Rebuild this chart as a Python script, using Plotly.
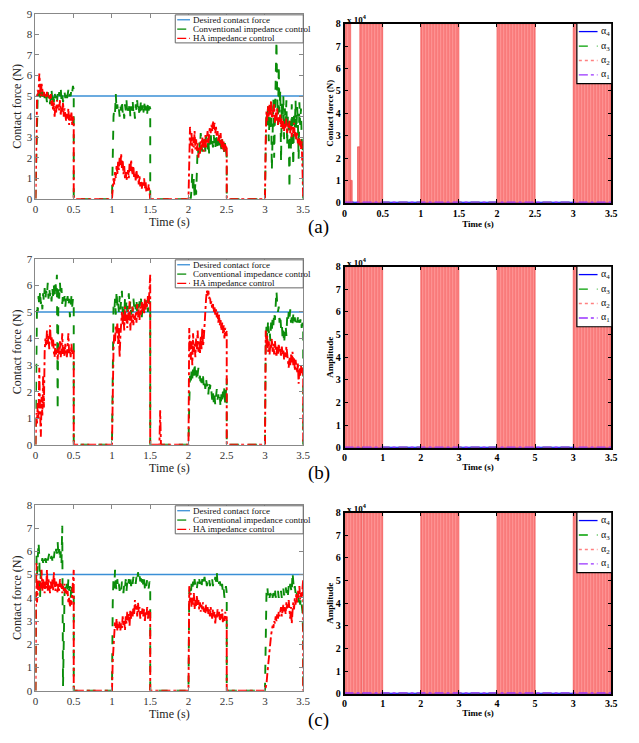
import plotly.graph_objects as go

# ---------------- data ----------------
STEP = 0.01
seg_starts = [0.0, 1.0, 2.0, 3.0]
time_ticks = [0, 0.5, 1, 1.5, 2, 2.5, 3, 3.5]
time_tick_text = ["0", "0.5", "1", "1.5", "2", "2.5", "3", "3.5"]
odd_tick_text = ["0", "1", "2", "3", "4", "5", "3", "3.5"]
desired_force = 5.0

# panel (a) conventional impedance control
a_conv = [
 [0,2.5,4.8,5.2,5.0,5.3,4.9,5.4,5.0,5.2,4.8,5.1,4.9,5.3,5.0,4.7,5.2,4.9,5.1,4.6,5.0,5.3,4.8,5.1,4.7,5.2,4.9,5.0,4.6,5.1,4.8,5.2,5.0,5.4,4.8,5.1,4.7,5.0,5.2,4.9,5.1,4.8,5.0,5.3,4.9,5.1,5.0,5.4,5.2,5.5,5.3],
 [0,3.0,4.0,4.4,4.2,5.1,4.3,4.6,4.2,4.4,4.0,4.5,4.3,4.8,4.2,4.4,3.9,4.6,4.3,4.8,4.1,4.4,4.3,4.7,4.0,4.5,4.3,4.8,4.2,4.4,3.9,4.6,4.3,4.8,4.2,4.5,4.0,4.4,4.8,4.3,4.6,4.2,4.4,4.8,4.3,4.5,4.1,4.7,4.3,4.5,4.4],
 [0,0,0.2,0,0.5,1.3,0.3,1.0,0,0.8,0.2,1.5,2.5,2.2,2.8,2.4,3.2,2.6,2.3,2.9,2.5,2.8,2.3,3.1,2.6,2.4,2.9,2.2,2.7,3.3,2.6,2.9,2.5,3.1,2.7,2.4,3.2,2.8,2.5,2.9,2.6,3.0,2.7,2.4,2.9,2.6,2.2,2.5,2.8,2.4,2.0],
 [0,2.5,4.2,3.6,4.5,2.8,4.1,3.3,4.6,1.4,3.8,4.9,2.0,4.5,6.2,7.7,5.1,3.6,6.5,4.2,5.3,1.8,4.7,3.5,5.0,2.9,4.4,3.6,4.8,2.6,4.1,3.3,0.5,4.0,2.3,4.6,3.1,1.6,4.2,3.5,4.8,2.9,4.5,3.8,1.9,4.7,3.6,4.4,3.0,2.2,2.6],
]
# panel (a) HA impedance control
a_ha = [
 [0,3.2,4.9,5.3,5.1,6.1,5.4,5.0,5.6,5.1,5.0,5.2,5.0,5.1,4.9,5.2,5.0,5.1,5.0,4.8,5.1,4.5,4.8,4.3,4.7,4.0,4.5,4.2,4.8,4.4,4.6,4.3,4.8,4.1,4.5,4.2,4.7,4.0,4.4,4.1,3.8,4.2,3.9,4.4,3.6,4.1,3.8,4.2,3.6,4.0,3.8],
 [0,0.5,1.0,0.7,1.3,1.0,1.6,1.2,1.8,1.4,2.0,1.6,2.2,1.5,1.9,1.2,1.6,1.0,1.3,0.9,1.2,1.4,1.0,1.7,1.3,1.9,1.4,1.2,1.6,1.0,1.3,0.9,1.4,1.0,1.2,0.7,1.1,0.6,0.9,0.5,0.8,0.6,1.0,0.5,0.8,0.3,0.6,0.4,0.7,0.3,0.2],
 [0,2.8,3.5,2.6,3.2,2.2,3.0,2.5,3.3,2.4,2.9,2.3,2.7,2.0,2.5,2.2,2.8,2.4,3.0,2.6,2.3,2.8,3.1,2.5,2.9,3.3,2.7,3.1,3.5,3.2,3.6,3.3,3.8,3.4,3.7,3.2,3.5,3.0,3.3,2.8,3.1,2.7,3.2,2.5,2.9,2.4,2.8,2.3,2.7,2.5,2.6],
 [0,3.0,4.3,3.8,4.5,4.0,4.6,4.1,4.8,3.9,4.3,4.0,4.6,3.7,4.2,3.8,4.4,3.6,4.0,3.7,4.1,3.5,3.9,3.4,3.8,3.3,3.7,3.4,3.9,3.2,3.6,3.4,3.8,3.2,3.6,3.0,3.5,3.2,3.7,3.0,3.3,2.9,3.2,2.7,3.0,2.6,2.9,2.4,2.8,1.5,0.7],
]
# panel (b) conventional impedance control
b_conv = [
 [0,3.5,5.3,5.0,5.6,5.2,5.8,5.3,5.5,5.1,5.7,5.4,5.9,5.5,5.8,5.6,6.1,5.5,5.9,5.6,5.8,5.4,5.9,5.6,6.0,5.5,6.2,5.8,6.4,1.3,5.9,5.5,6.1,5.6,5.9,5.3,5.7,5.4,5.6,5.2,5.5,5.3,5.6,5.2,5.5,4.8,5.4,5.6,5.2,5.5,5.3],
 [0,3.5,5.2,5.0,5.5,4.9,5.8,5.2,5.4,5.0,5.6,5.1,5.4,5.8,5.0,5.3,4.8,5.5,5.1,5.4,5.0,5.3,5.7,5.1,5.4,4.9,5.3,5.0,5.5,5.2,5.4,5.1,5.5,4.9,5.3,5.0,5.4,5.2,5.5,4.8,5.3,5.0,5.4,5.1,5.5,5.2,5.4,5.0,5.5,5.3,5.4],
 [0,1.5,2.6,2.3,2.8,2.5,2.9,2.6,3.1,2.5,2.8,2.4,2.7,2.9,2.5,2.6,2.2,2.5,2.3,2.6,2.2,2.4,2.1,2.5,2.2,2.3,1.9,2.4,2.1,2.3,2.0,1.7,2.0,1.6,1.9,1.5,1.8,2.1,1.7,1.9,1.6,1.8,1.4,1.9,1.6,2.0,1.7,2.2,1.5,1.9,2.5],
 [0,3.8,4.5,3.9,4.7,4.2,4.4,3.9,4.6,4.3,4.8,4.5,5.0,4.7,5.4,5.8,5.3,5.0,5.2,4.6,4.9,4.4,4.6,4.0,4.3,3.8,4.2,4.5,4.1,4.8,4.6,5.0,4.7,5.1,4.6,4.8,4.5,4.9,4.6,4.8,4.5,4.7,4.6,4.8,4.5,4.7,4.6,4.8,4.4,4.6,4.3],
]
# panel (b) HA impedance control
b_ha = [
 [0,1.2,0.8,1.6,1.0,2.9,1.3,0.3,1.8,1.1,2.6,1.4,3.5,4.0,3.7,4.3,3.8,4.1,3.6,4.5,3.9,4.1,3.7,4.0,3.5,3.3,3.8,3.4,3.6,3.2,3.7,3.4,3.9,3.3,3.6,4.2,3.4,3.7,3.3,3.8,3.5,3.3,3.7,4.2,3.4,3.6,3.3,3.8,3.4,3.6,3.5],
 [0,3.0,3.6,4.2,3.9,4.5,4.2,4.6,3.8,4.4,3.3,4.1,4.7,5.0,4.5,4.9,4.3,5.2,4.6,4.9,4.4,5.1,4.7,5.4,4.3,4.9,4.6,5.2,4.5,4.9,4.7,5.0,4.6,5.3,4.8,5.1,4.7,5.2,4.9,5.4,5.0,5.3,4.9,5.5,5.1,5.4,5.2,5.6,5.3,5.9,6.4],
 [0,4.4,3.6,3.2,3.9,3.0,4.2,3.5,3.8,3.3,4.0,3.6,4.3,3.5,3.9,3.4,4.1,3.6,4.4,3.7,4.0,4.6,5.0,5.5,5.8,5.6,5.8,5.5,5.6,5.3,5.4,5.1,5.3,5.0,5.2,4.9,5.1,4.8,5.0,4.6,4.9,4.5,4.7,4.3,4.6,4.2,4.5,4.0,4.4,4.1,4.3],
 [0,4.3,3.7,4.1,3.5,3.9,3.4,3.8,3.6,4.0,3.5,3.8,3.4,3.9,3.6,3.3,3.7,3.4,3.8,3.5,3.6,3.3,3.7,3.4,3.6,3.2,3.5,3.3,3.7,3.4,3.2,2.9,3.3,3.0,3.4,3.1,3.5,3.0,3.3,2.8,3.2,3.0,2.7,3.1,2.3,2.9,2.6,3.0,2.7,2.9,2.6],
]
b_ha_blip_start = 1.62
b_ha_blip = [0, 1.3, 0]
# panel (c) conventional impedance control
c_conv = [
 [0,6.0,5.0,5.5,6.4,5.8,4.0,5.3,5.6,5.7,5.5,5.8,5.6,5.7,5.5,5.8,5.6,5.7,5.9,5.6,5.7,5.8,5.6,5.9,5.7,6.0,5.8,6.1,5.9,6.4,5.8,6.1,5.6,6.0,5.5,7.1,0.2,3.5,4.2,4.5,4.3,4.6,4.2,4.8,4.3,4.5,4.0,4.6,4.2,4.4,4.1],
 [0,3.8,4.9,4.4,5.2,4.6,4.3,4.8,4.4,4.6,4.3,4.5,4.3,4.7,4.4,4.2,4.6,4.4,4.8,4.3,4.7,4.5,4.8,4.6,4.9,4.5,4.8,4.6,4.9,4.7,4.8,4.6,4.9,4.7,5.1,4.8,5.0,4.7,4.9,4.6,4.8,4.5,4.8,4.4,4.7,4.5,4.8,4.6,4.4,4.7,4.5],
 [0,4.2,4.4,4.1,4.6,4.3,4.7,4.4,4.8,4.5,4.6,4.4,4.7,4.5,4.8,4.6,4.7,4.4,4.8,4.5,4.7,4.9,4.6,4.8,4.5,4.7,4.6,4.8,4.5,4.7,4.6,4.8,4.5,4.7,4.6,4.9,4.7,5.1,4.6,4.8,4.6,4.7,4.5,4.3,4.6,4.2,4.4,4.0,4.3,4.5,4.2],
 [0,2.5,4.3,4.5,4.1,4.3,4.0,4.2,4.1,4.3,4.0,4.2,4.1,4.4,4.0,4.2,4.1,4.3,4.0,4.2,4.1,4.3,4.0,4.2,4.4,4.1,4.3,4.5,4.2,4.4,4.1,4.5,4.3,4.6,4.4,4.2,5.1,4.4,4.3,4.5,4.2,4.4,4.0,4.3,3.8,4.1,3.7,4.0,3.6,3.4,2.3],
]
# panel (c) HA impedance control
c_ha = [
 [0,5.5,3.8,4.2,4.8,4.3,4.7,4.4,5.2,4.3,4.8,4.5,4.2,4.7,4.4,5.2,4.3,4.8,4.5,4.2,4.7,4.4,4.8,4.3,5.1,4.5,4.3,4.7,4.4,4.2,4.6,4.3,4.8,4.4,4.6,4.2,4.5,4.3,4.6,4.2,4.4,4.1,4.3,3.8,4.0,3.6,3.9,3.7,4.2,4.6,5.2],
 [0,1.3,2.0,2.5,3.0,2.7,3.1,2.6,2.9,2.7,3.0,2.6,2.9,2.7,3.2,2.8,3.0,2.6,3.2,2.9,3.4,3.0,3.3,2.8,3.5,3.1,3.4,3.2,3.6,3.3,3.9,3.5,3.7,3.2,3.8,3.4,3.6,3.1,3.5,3.3,3.6,3.2,3.5,3.0,3.4,3.2,3.6,3.1,3.5,3.3,3.4],
 [0,4.5,3.8,4.2,3.6,4.0,3.7,4.2,3.5,3.9,3.6,4.1,3.7,3.9,3.5,3.8,3.4,3.7,3.5,3.8,3.4,3.6,3.3,3.7,3.4,3.6,3.3,3.5,3.2,3.6,3.4,3.1,3.5,3.2,3.4,2.9,3.3,3.1,3.5,3.2,3.4,3.0,3.3,3.1,3.5,2.9,3.2,3.0,3.4,3.1,3.2],
 [0,0.1,0.3,0.7,1.1,1.4,1.8,2.1,2.4,2.6,2.8,2.7,3.0,2.9,3.2,3.0,3.3,3.1,3.4,3.2,3.5,3.6,3.2,3.5,3.7,3.4,3.6,3.3,3.8,3.5,3.6,3.9,3.4,3.1,3.6,2.9,3.4,3.8,3.5,4.0,3.7,4.2,3.8,4.3,4.0,4.5,3.9,4.2,4.0,4.4,4.8],
]

# right panels: alpha_2 active intervals (start, end, peak amplitude)
a_alpha2_start = [0.00, 0.08, 0.17, 0.20, 1.00, 2.00, 3.00]
a_alpha2_end   = [0.08, 0.10, 0.20, 0.50, 1.50, 2.50, 3.50]
a_alpha2_peak  = [80000, 10000, 25000, 80000, 80000, 80000, 80000]
bc_alpha2_start = [0.00, 0.245, 1.00, 2.00, 3.00]
bc_alpha2_end   = [0.23, 0.50, 1.50, 2.50, 3.50]
bc_alpha2_peak  = [80000, 80000, 80000, 80000, 80000]
alpha_time = [0, 3.5]
alpha4_vals = [0, 0]
alpha3_vals = [0, 0]
alpha1_vals = [150, 150]
amp_ticks = [0, 10000, 20000, 30000, 40000, 50000, 60000, 70000, 80000]
amp_tick_text = ["0", "1", "2", "3", "4", "5", "6", "7", "8"]

# ---------------- styling ----------------
W, H = 639, 743
SERIF = "Liberation Serif, Times New Roman, serif"
BLUE = "#3a8fd6"
GREEN = "#0a8c0a"
RED = "#ff0000"

def px(x):
    return x / W

def py(y):
    return 1 - y / H

def build(segs, extra=None):
    xs, ys = [0.0], [0.0]
    items = [(seg_starts[i], v) for i, v in enumerate(segs)]
    if extra:
        items.append(extra)
    items.sort(key=lambda it: it[0])
    for s, vals in items:
        for i, v in enumerate(vals):
            xs.append(round(s + STEP * i, 4))
            ys.append(v)
        end = round(s + STEP * (len(vals) - 1), 4)
        xs.append(end)
        ys.append(0)
    xs.append(3.5)
    ys.append(0)
    return xs, ys

fig = go.Figure()

left_panels = [
    ("x", "y", a_conv, a_ha, None, 9, (8, 196)),
    ("x3", "y3", b_conv, b_ha, (b_ha_blip_start, b_ha_blip), 7, (257, 446)),
    ("x5", "y5", c_conv, c_ha, None, 8, (507, 696)),
]
right_panels = [
    ("x2", "y2", a_alpha2_start, a_alpha2_end, a_alpha2_peak, time_tick_text, "Contact force (N)", (18, 200)),
    ("x4", "y4", bc_alpha2_start, bc_alpha2_end, bc_alpha2_peak, odd_tick_text, "Amplitude", (265, 449)),
    ("x6", "y6", bc_alpha2_start, bc_alpha2_end, bc_alpha2_peak, odd_tick_text, "Amplitude", (515, 699)),
]

shapes = []
annotations = []

for xa, ya, conv, ha, extra, ymax, (top, bot) in left_panels:
    fig.add_trace(go.Scatter(x=[0, 3.5], y=[desired_force, desired_force], mode="lines",
                             line=dict(color=BLUE, width=1.5), xaxis=xa, yaxis=ya,
                             showlegend=False, name="Desired contact force"))
    cx, cy = build(conv)
    fig.add_trace(go.Scatter(x=cx, y=cy, mode="lines", line=dict(color=GREEN, width=1.9, dash="dash"),
                             xaxis=xa, yaxis=ya, showlegend=False, name="Conventional impedance control"))
    hx, hy = build(ha, extra)
    fig.add_trace(go.Scatter(x=hx, y=hy, mode="lines", line=dict(color=RED, width=1.9, dash="dashdot"),
                             xaxis=xa, yaxis=ya, showlegend=False, name="HA impedance control"))
    # custom legend box
    lx0, lx1 = 175, 305
    shapes.append(dict(type="rect", xref="paper", yref="paper", x0=px(lx0), x1=px(lx1),
                       y0=py(top + 29.5), y1=py(top + 1), line=dict(color="#666666", width=1),
                       fillcolor="white", layer="above"))
    entries = [("Desired contact force", BLUE, "solid"),
               ("Conventional impedance control", GREEN, "dash"),
               ("HA impedance control", RED, "dashdot")]
    for k, (txt, col, dash) in enumerate(entries):
        ry = top + 6 + 9.5 * k
        shapes.append(dict(type="line", xref="paper", yref="paper", x0=px(177), x1=px(190),
                           y0=py(ry), y1=py(ry), line=dict(color=col, width=1.3, dash=dash), layer="above"))
        annotations.append(dict(x=px(191), y=py(ry), xref="paper", yref="paper", text=txt,
                                showarrow=False, xanchor="left", yanchor="middle",
                                font=dict(family=SERIF, size=9, color="#111111")))

for xa, ya, st, en, pk, ttext, ytitle, (top, bot) in right_panels:
    fig.add_trace(go.Scatter(x=alpha_time, y=alpha4_vals, mode="lines", line=dict(color="#0000ff", width=2),
                             xaxis=xa, yaxis=ya, showlegend=False, name="α4"))
    fig.add_trace(go.Scatter(x=alpha_time, y=alpha3_vals, mode="lines",
                             line=dict(color="#00a000", width=2, dash="dash"),
                             xaxis=xa, yaxis=ya, showlegend=False, name="α3"))
    for s, e, h in zip(st, en, pk):
        fig.add_trace(go.Scatter(x=[s, s, e, e, s], y=[0, h, h, 0, 0], mode="lines", fill="toself",
                                 fillcolor="rgb(250,120,120)",
                                 fillpattern=dict(shape="|", fgcolor="rgb(238,45,45)",
                                                  bgcolor="rgb(255,160,160)", size=3, solidity=0.5),
                                 line=dict(color="rgb(238,60,60)", width=0.6),
                                 xaxis=xa, yaxis=ya, showlegend=False, name="α2"))
    fig.add_trace(go.Scatter(x=alpha_time, y=alpha1_vals, mode="lines",
                             line=dict(color="#9933ff", width=2, dash="dashdot"),
                             xaxis=xa, yaxis=ya, showlegend=False, name="α1"))
    # x 10^4 label
    annotations.append(dict(x=px(347), y=py(top - 5), xref="paper", yref="paper",
                            text="<b>x 10<sup>4</sup></b>", showarrow=False, xanchor="left",
                            yanchor="middle", font=dict(family=SERIF, size=9, color="black")))
    # custom legend
    shapes.append(dict(type="rect", xref="paper", yref="paper", x0=px(583), x1=px(618.5),
                       y0=py(top + 61), y1=py(top - 0.5), line=dict(color="black", width=1.2),
                       fillcolor="white", layer="above"))
    entries = [("α<sub>4</sub>", "#0000ff", "solid"), ("α<sub>3</sub>", "#00a000", "dash"),
               ("α<sub>2</sub>", "#ff8080", "dot"), ("α<sub>1</sub>", "#9933ff", "dashdot")]
    for k, (txt, col, dash) in enumerate(entries):
        ry = top + 8 + 14.7 * k
        shapes.append(dict(type="line", xref="paper", yref="paper", x0=px(585), x1=px(604),
                           y0=py(ry), y1=py(ry), line=dict(color=col, width=1.3, dash=dash), layer="above"))
        annotations.append(dict(x=px(605), y=py(ry), xref="paper", yref="paper", text=txt,
                                showarrow=False, xanchor="left", yanchor="middle",
                                font=dict(family=SERIF, size=10, color="#111111")))

# panel labels
for lbl, yy in [("(a)", 225), ("(b)", 475), ("(c)", 726)]:
    annotations.append(dict(x=px(321), y=py(yy), xref="paper", yref="paper", text=lbl, showarrow=False,
                            xanchor="center", yanchor="middle", font=dict(family=SERIF, size=19, color="black")))

layout = dict(width=W, height=H, margin=dict(l=0, r=0, t=0, b=0), paper_bgcolor="white",
              plot_bgcolor="white", showlegend=False, shapes=shapes, annotations=annotations)

def left_axes(n, ymax, top, bot):
    sx = "" if n == 1 else str(n)
    xd = dict(domain=[px(33), px(305)], range=[0, 3.5], tickvals=time_ticks, ticktext=time_tick_text,
              anchor="y" + sx, showgrid=False, zeroline=False, showline=True, linecolor="#888888",
              linewidth=1, mirror="ticks", ticks="inside", ticklen=4, tickcolor="#888888",
              tickfont=dict(family=SERIF, size=11, color="#333333"),
              title=dict(text="Time (s)", font=dict(family=SERIF, size=12, color="#222222"), standoff=2))
    yd = dict(domain=[py(bot), py(top)], range=[0, ymax], dtick=1, anchor="x" + sx, showgrid=False,
              zeroline=False, showline=True, linecolor="#888888", linewidth=1, mirror="ticks",
              ticks="inside", ticklen=4, tickcolor="#888888",
              tickfont=dict(family=SERIF, size=11, color="#333333"),
              title=dict(text="Contact force (N)", font=dict(family=SERIF, size=12, color="#222222"), standoff=2))
    return xd, yd

def right_axes(n, ttext, ytitle, top, bot):
    sx = str(n)
    xd = dict(domain=[px(347), px(618)], range=[0, 3.5], tickvals=time_ticks, ticktext=ttext,
              anchor="y" + sx, showgrid=False, zeroline=False, showline=True, linecolor="black",
              linewidth=1.5, mirror="ticks", ticks="inside", ticklen=4, tickcolor="black",
              tickfont=dict(family=SERIF, size=10, color="black", weight="bold"),
              title=dict(text="<b>Time (s)</b>", font=dict(family=SERIF, size=9, color="black"), standoff=1))
    yd = dict(domain=[py(bot), py(top)], range=[0, 80000], tickvals=amp_ticks, ticktext=amp_tick_text,
              anchor="x" + sx, showgrid=False, zeroline=False, showline=True, linecolor="black",
              linewidth=1.5, mirror="ticks", ticks="inside", ticklen=4, tickcolor="black",
              tickfont=dict(family=SERIF, size=10, color="black", weight="bold"),
              title=dict(text="<b>" + ytitle + "</b>", font=dict(family=SERIF, size=9, color="black"), standoff=1))
    return xd, yd

for i, (xa, ya, conv, ha, extra, ymax, (top, bot)) in enumerate(left_panels):
    n = 2 * i + 1
    xd, yd = left_axes(n, ymax, top, bot)
    sx = "" if n == 1 else str(n)
    layout["xaxis" + sx] = xd
    layout["yaxis" + sx] = yd
for i, (xa, ya, st, en, pk, ttext, ytitle, (top, bot)) in enumerate(right_panels):
    n = 2 * i + 2
    xd, yd = right_axes(n, ttext, ytitle, top, bot)
    layout["xaxis" + str(n)] = xd
    layout["yaxis" + str(n)] = yd

fig.update_layout(**layout)
fig.write_html("out.html")
